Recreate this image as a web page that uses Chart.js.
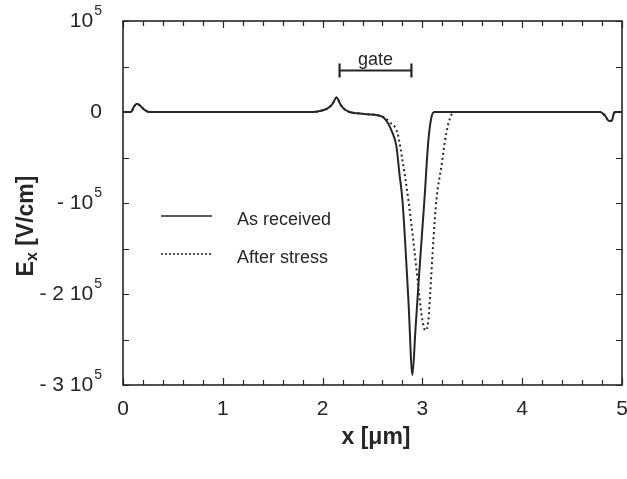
<!DOCTYPE html>
<html>
<head>
<meta charset="utf-8">
<script src="https://cdn.jsdelivr.net/npm/chart.js@4.4.1/dist/chart.umd.min.js"></script>
<style>
  html, body { margin: 0; padding: 0; background: #ffffff; }
  #wrap { position: relative; width: 627px; height: 479px; }
</style>
</head>
<body>
<div id="wrap"><canvas id="c" width="627" height="479"></canvas></div>
<script>
// ---- Data (x in µm, Ex in V/cm) ----
const xAsReceived = [0, 0.08, 0.11, 0.14, 0.18, 0.22, 0.26, 0.5, 1.0, 1.5, 1.9, 1.97, 2.05, 2.10, 2.14, 2.18, 2.22, 2.27, 2.35, 2.45, 2.55, 2.62, 2.70, 2.74, 2.77, 2.80, 2.86, 2.90, 2.93, 2.97, 3.02, 3.06, 3.09, 3.12, 3.5, 4.0, 4.5, 4.78, 4.83, 4.87, 4.90, 4.92, 4.94, 5.0];
const yAsReceived = [0, 0, 6000, 9000, 6000, 2000, 0, 0, 0, 0, 0, 1000, 4000, 9000, 16000, 8000, 3000, 0, -1500, -2500, -3500, -7000, -23000, -38000, -68000, -97000, -207000, -289000, -240000, -174000, -97000, -31000, -6000, 0, 0, 0, 0, 0, -4000, -10000, -9000, -1000, 0, 0];

const xAfterStress = [0, 0.08, 0.11, 0.14, 0.18, 0.22, 0.26, 0.5, 1.0, 1.5, 1.9, 1.97, 2.05, 2.10, 2.14, 2.18, 2.22, 2.27, 2.35, 2.45, 2.55, 2.62, 2.67, 2.75, 2.80, 2.86, 2.92, 2.97, 3.00, 3.03, 3.06, 3.08, 3.11, 3.14, 3.19, 3.24, 3.29, 3.33, 3.5, 4.0, 4.5, 4.78, 4.83, 4.87, 4.90, 4.92, 4.94, 5.0];
const yAfterStress = [0, 0, 6000, 9000, 6000, 2000, 0, 0, 0, 0, 0, 1000, 4000, 9000, 16000, 8000, 3000, 0, -1500, -2500, -3500, -6000, -11000, -23000, -53000, -97000, -152000, -203000, -229000, -240000, -229000, -196000, -141000, -97000, -60000, -23000, -3000, 0, 0, 0, 0, 0, -4000, -10000, -9000, -1000, 0, 0];

const seriesNames = ['As received', 'After stress'];

// ticks
const xTickValues = [0, 1, 2, 3, 4, 5];
const xTickLabels = ['0', '1', '2', '3', '4', '5'];
const xMinorStep = 0.2;
const yTickValues = [100000, 0, -100000, -200000, -300000];
const yTickPrefix = ['', '', '- ', '- 2 ', '- 3 '];
const yTickBase = ['10', '0', '10', '10', '10'];
const yTickExp = ['5', '', '5', '5', '5'];
const yMinorStep = 50000;

// gate annotation
const gateStart = 2.17, gateEnd = 2.89, gateLevel = 46000, gateLabel = 'gate';

const toPts = (xs, ys) => xs.map((x, i) => ({ x: x, y: ys[i] }));

const INK = '#262626';
const FONT = '"Liberation Sans", Arial, Helvetica, sans-serif';

const decor = {
  id: 'decor',
  afterDraw(chart) {
    const ctx = chart.ctx;
    const xs = chart.scales.x, ys = chart.scales.y;
    const a = chart.chartArea;
    ctx.save();
    ctx.strokeStyle = INK;
    ctx.fillStyle = INK;
    // frame
    ctx.lineWidth = 1.6;
    ctx.strokeRect(a.left, a.top, a.right - a.left, a.bottom - a.top);
    // inward ticks
    ctx.lineWidth = 1.2;
    ctx.beginPath();
    for (let v = xs.min; v <= xs.max + 1e-9; v += xMinorStep) {
      const px = Math.round(xs.getPixelForValue(v)) + 0.5;
      const major = Math.abs(v - Math.round(v)) < 1e-6;
      const L = major ? 7 : 5;
      ctx.moveTo(px, a.bottom); ctx.lineTo(px, a.bottom - L);
      ctx.moveTo(px, a.top); ctx.lineTo(px, a.top + L);
    }
    for (let v = ys.min; v <= ys.max + 1; v += yMinorStep) {
      const py = Math.round(ys.getPixelForValue(v)) + 0.5;
      const L = 6;
      ctx.moveTo(a.left, py); ctx.lineTo(a.left + L, py);
      ctx.moveTo(a.right, py); ctx.lineTo(a.right - L, py);
    }
    ctx.stroke();

    // x tick labels
    ctx.font = '21px ' + FONT;
    ctx.textAlign = 'center';
    ctx.textBaseline = 'middle';
    xTickValues.forEach((v, i) => {
      ctx.fillText(xTickLabels[i], xs.getPixelForValue(v), a.bottom + 24);
    });

    // y tick labels with superscripts
    const rightEdge = a.left - 21;
    yTickValues.forEach((v, i) => {
      const py = ys.getPixelForValue(v);
      ctx.font = '21px ' + FONT;
      const main = yTickPrefix[i] + yTickBase[i];
      const wMain = ctx.measureText(main).width;
      ctx.font = '14px ' + FONT;
      const wExp = yTickExp[i] ? ctx.measureText(yTickExp[i]).width + 1 : 0;
      const start = rightEdge - wMain - wExp;
      ctx.textAlign = 'left';
      ctx.textBaseline = 'middle';
      ctx.font = '21px ' + FONT;
      ctx.fillText(main, start, py);
      if (yTickExp[i]) {
        ctx.font = '14px ' + FONT;
        ctx.fillText(yTickExp[i], start + wMain + 1, py - 10);
      }
    });

    // x title
    ctx.font = 'bold 23px ' + FONT;
    ctx.textAlign = 'center';
    ctx.textBaseline = 'middle';
    ctx.fillText('x [\u03bcm]', 376, a.bottom + 53);

    // y title (rotated) E_x [V/cm]
    ctx.save();
    ctx.translate(27, 226);
    ctx.rotate(-Math.PI / 2);
    const tE = 'E', tRest = ' [V/cm]';
    ctx.font = 'bold 23px ' + FONT;
    const wE = ctx.measureText(tE).width;
    const wR = ctx.measureText(tRest).width;
    ctx.font = 'bold 16px ' + FONT;
    const wX = ctx.measureText('x').width;
    const total = wE + wX + wR;
    let cx = -total / 2;
    ctx.textAlign = 'left';
    ctx.textBaseline = 'middle';
    ctx.font = 'bold 23px ' + FONT;
    ctx.fillText(tE, cx, 0); cx += wE;
    ctx.font = 'bold 16px ' + FONT;
    ctx.fillText('x', cx, 6); cx += wX;
    ctx.font = 'bold 23px ' + FONT;
    ctx.fillText(tRest, cx, 0);
    ctx.restore();

    // legend
    ctx.font = '18px ' + FONT;
    ctx.textAlign = 'left';
    ctx.textBaseline = 'middle';
    ctx.lineWidth = 1.6;
    ctx.setLineDash([]);
    ctx.beginPath(); ctx.moveTo(161, 216); ctx.lineTo(212, 216); ctx.stroke();
    ctx.fillText(seriesNames[0], 237, 220);
    ctx.setLineDash([2, 2]);
    ctx.beginPath(); ctx.moveTo(161, 254); ctx.lineTo(212, 254); ctx.stroke();
    ctx.setLineDash([]);
    ctx.fillText(seriesNames[1], 237, 258);

    // gate marker
    const g1 = xs.getPixelForValue(gateStart), g2 = xs.getPixelForValue(gateEnd);
    const gy = Math.round(ys.getPixelForValue(gateLevel)) + 0.5;
    ctx.lineWidth = 2.2;
    ctx.beginPath();
    ctx.moveTo(g1, gy); ctx.lineTo(g2, gy);
    ctx.moveTo(g1, gy - 7); ctx.lineTo(g1, gy + 7);
    ctx.moveTo(g2, gy - 7); ctx.lineTo(g2, gy + 7);
    ctx.stroke();
    ctx.font = '18px ' + FONT;
    ctx.textAlign = 'center';
    ctx.textBaseline = 'alphabetic';
    ctx.fillText(gateLabel, (g1 + g2) / 2, gy - 6);

    ctx.restore();
  }
};

new Chart(document.getElementById('c'), {
  type: 'line',
  data: {
    datasets: [
      {
        label: seriesNames[1],
        data: toPts(xAfterStress, yAfterStress),
        borderColor: INK,
        borderWidth: 2,
        borderDash: [2, 3],
        pointRadius: 0,
        fill: false,
        cubicInterpolationMode: 'monotone'
      },
      {
        label: seriesNames[0],
        data: toPts(xAsReceived, yAsReceived),
        borderColor: INK,
        borderWidth: 2,
        pointRadius: 0,
        fill: false,
        cubicInterpolationMode: 'monotone'
      }
    ]
  },
  options: {
    responsive: false,
    animation: false,
    devicePixelRatio: 1,
    layout: { padding: { left: 123, right: 5, top: 21, bottom: 94 } },
    plugins: { legend: { display: false }, tooltip: { enabled: false } },
    scales: {
      x: {
        type: 'linear', min: 0, max: 5,
        ticks: { display: false },
        grid: { display: false, drawTicks: false },
        border: { display: false }
      },
      y: {
        type: 'linear', min: -300000, max: 100000,
        ticks: { display: false },
        grid: { display: false, drawTicks: false },
        border: { display: false }
      }
    }
  },
  plugins: [decor]
});
</script>
</body>
</html>
